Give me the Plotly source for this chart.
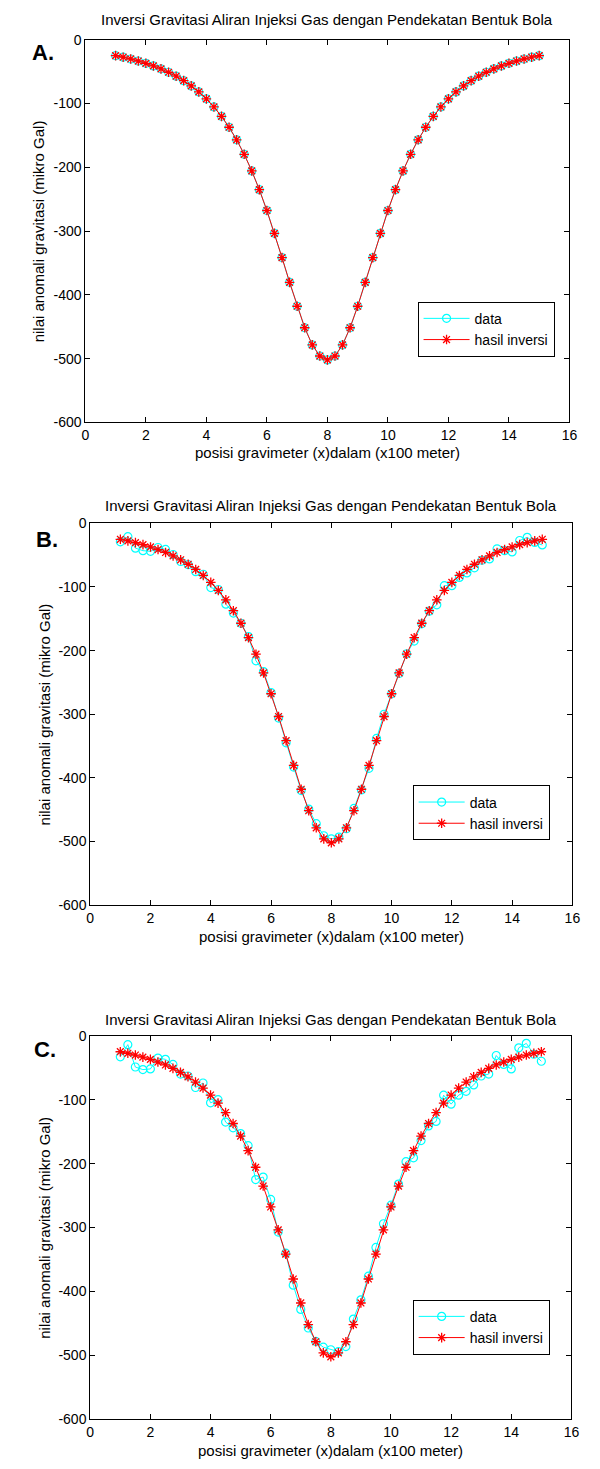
import plotly.graph_objects as go

W, H = 600, 1469

# ---------------- data ----------------
x_pos = [1.0, 1.25, 1.5, 1.75, 2.0, 2.25, 2.5, 2.75, 3.0, 3.25, 3.5, 3.75, 4.0, 4.25,
         4.5, 4.75, 5.0, 5.25, 5.5, 5.75, 6.0, 6.25, 6.5, 6.75, 7.0, 7.25, 7.5, 7.75,
         8.0, 8.25, 8.5, 8.75, 9.0, 9.25, 9.5, 9.75, 10.0, 10.25, 10.5, 10.75, 11.0,
         11.25, 11.5, 11.75, 12.0, 12.25, 12.5, 12.75, 13.0, 13.25, 13.5, 13.75, 14.0,
         14.25, 14.5, 14.75, 15.0]

# inversion result (same curve in all panels)
g_inv = [-25.1, -27.5, -30.3, -33.5, -37.1, -41.2, -45.8, -51.1, -57.3, -64.3, -72.5,
         -81.9, -92.8, -105.5, -120.2, -137.3, -157.0, -179.7, -205.7, -235.1, -267.8,
         -303.6, -341.6, -380.4, -417.9, -451.6, -478.5, -495.9, -502.0, -495.9, -478.5,
         -451.6, -417.9, -380.4, -341.6, -303.6, -267.8, -235.1, -205.7, -179.7, -157.0,
         -137.3, -120.2, -105.5, -92.8, -81.9, -72.5, -64.3, -57.3, -51.1, -45.8, -41.2,
         -37.1, -33.5, -30.3, -27.5, -25.1]

# panel A data (noise free)
g_data_a = [-25.1, -27.5, -30.3, -33.5, -37.1, -41.2, -45.8, -51.1, -57.3, -64.3, -72.5,
            -81.9, -92.8, -105.5, -120.2, -137.3, -157.0, -179.7, -205.7, -235.1, -267.8,
            -303.6, -341.6, -380.4, -417.9, -451.6, -478.5, -495.9, -502.0, -495.9, -478.5,
            -451.6, -417.9, -380.4, -341.6, -303.6, -267.8, -235.1, -205.7, -179.7, -157.0,
            -137.3, -120.2, -105.5, -92.8, -81.9, -72.5, -64.3, -57.3, -51.1, -45.8, -41.2,
            -37.1, -33.5, -30.3, -27.5, -25.1]

# panel B data (small noise)
g_data_b = [-29, -21, -39, -43, -44, -38, -41, -49, -60, -65, -76,
            -80, -101, -104, -127, -141, -157, -178, -216, -233, -266,
            -306, -345, -383, -420, -449, -472, -491, -496, -493, -480,
            -448, -419, -385, -338, -300, -268, -236, -205, -185, -158,
            -138, -128, -98, -98, -85, -78, -70, -58, -56, -40, -43,
            -45, -27, -22, -30, -34]

# panel C data (larger noise)
g_data_c = [-33, -14, -49, -53, -52, -35, -37, -45, -60, -63, -81,
            -74, -105, -100, -135, -144, -153, -172, -225, -221, -256,
            -307, -340, -390, -428, -457, -478, -487, -491, -494, -486,
            -443, -413, -376, -331, -294, -265, -232, -197, -191, -164,
            -141, -134, -93, -107, -93, -87, -77, -63, -60, -31, -45,
            -52, -19, -12, -29, -40]

x_ticks = [0, 2, 4, 6, 8, 10, 12, 14, 16]
y_ticks = [-600, -500, -400, -300, -200, -100, 0]

title_text = "Inversi Gravitasi Aliran Injeksi Gas dengan Pendekatan Bentuk Bola"
xlabel_text = "posisi gravimeter (x)dalam (x100 meter)"
ylabel_text = "nilai anomali gravitasi (mikro Gal)"
legend_names = ["data", "hasil inversi"]
panel_labels = ["A.", "B.", "C."]
panel_data = [g_data_a, g_data_b, g_data_c]

# ---------------- layout geometry (pixels) ----------------
panels = [
    dict(l=83, r=577, t=32, b=419, title_y=12, xlab_y=449, ylab_x=35, lab=(40, 45), leg=(422, 297)),
    dict(l=88, r=580, t=521, b=907, title_y=503, xlab_y=939, ylab_x=41, lab=(44, 537), leg=(417, 786)),
    dict(l=88, r=579, t=1039, b=1427, title_y=1023, xlab_y=1458, ylab_x=41, lab=(42, 1053), leg=(417, 1306)),
]

def px(x):
    return x / W

def py(y):
    return 1 - y / H

FONT = "Liberation Sans, Arial, sans-serif"
fs_txt = 15
fs_tick = 14
fs_leg = 14

fig = go.Figure()
annotations = []
layout_axes = {}

for i, p in enumerate(panels):
    n = "" if i == 0 else str(i + 1)
    xa = "x" + n
    ya = "y" + n
    leg = "legend" + n
    fig.add_trace(go.Scatter(
        x=x_pos, y=panel_data[i], mode="lines+markers", name=legend_names[0],
        xaxis=xa, yaxis=ya, legend=leg,
        line=dict(color="#00FFFF", width=1),
        marker=dict(symbol="circle-open", size=8, color="#00FFFF", line=dict(width=1.2, color="#00FFFF")),
    ))
    fig.add_trace(go.Scatter(
        x=x_pos, y=g_inv, mode="lines+markers", name=legend_names[1],
        xaxis=xa, yaxis=ya, legend=leg,
        line=dict(color="#FF0000", width=1),
        marker=dict(symbol="asterisk-open", size=8, color="#FF0000", line=dict(width=1.3, color="#FF0000")),
    ))
    axis_common = dict(
        showline=True, linecolor="black", linewidth=1, mirror="ticks",
        ticks="inside", ticklen=5, tickcolor="black", tickwidth=1,
        showgrid=False, zeroline=False,
        tickfont=dict(family=FONT, size=fs_tick, color="black"),
    )
    layout_axes["xaxis" + n] = dict(
        axis_common, domain=[px(p["l"]), px(p["r"])], range=[0, 16],
        tickvals=x_ticks, ticktext=[str(v) for v in x_ticks],
        anchor=ya,
    )
    layout_axes["yaxis" + n] = dict(
        axis_common, domain=[py(p["b"]), py(p["t"])], range=[-600, 0],
        tickvals=y_ticks, ticktext=[str(v) for v in y_ticks],
        anchor=xa,
    )
    layout_axes[leg] = dict(
        x=px(p["leg"][0]), y=py(p["leg"][1]), xanchor="left", yanchor="top",
        bgcolor="white", bordercolor="black", borderwidth=1,
        font=dict(family=FONT, size=fs_leg, color="black"),
        tracegroupgap=0, itemwidth=46,
    )
    cx = (p["l"] + p["r"]) / 2
    annotations.append(dict(
        text=title_text, x=px(cx), y=py(p["title_y"]), xref="paper", yref="paper",
        showarrow=False, xanchor="center", yanchor="middle",
        font=dict(family=FONT, size=fs_txt, color="black"),
    ))
    annotations.append(dict(
        text=xlabel_text, x=px(cx), y=py(p["xlab_y"]), xref="paper", yref="paper",
        showarrow=False, xanchor="center", yanchor="middle",
        font=dict(family=FONT, size=fs_txt, color="black"),
    ))
    annotations.append(dict(
        text=ylabel_text, x=px(p["ylab_x"]), y=py((p["t"] + p["b"]) / 2), xref="paper", yref="paper",
        showarrow=False, xanchor="center", yanchor="middle", textangle=-90,
        font=dict(family=FONT, size=fs_txt, color="black"),
    ))
    annotations.append(dict(
        text="<b>" + panel_labels[i] + "</b>", x=px(p["lab"][0]), y=py(p["lab"][1]),
        xref="paper", yref="paper", showarrow=False, xanchor="center", yanchor="middle",
        font=dict(family=FONT, size=22, color="black"),
    ))

fig.update_layout(
    width=W, height=H,
    margin=dict(l=0, r=0, t=0, b=0),
    paper_bgcolor="white", plot_bgcolor="white",
    showlegend=True,
    annotations=annotations,
    **layout_axes,
)

fig.write_html(
    "out.html",
    config={"displayModeBar": False},
    post_script="document.body.style.margin='0';document.body.style.padding='0';"
                "document.documentElement.style.overflow='hidden';",
)
